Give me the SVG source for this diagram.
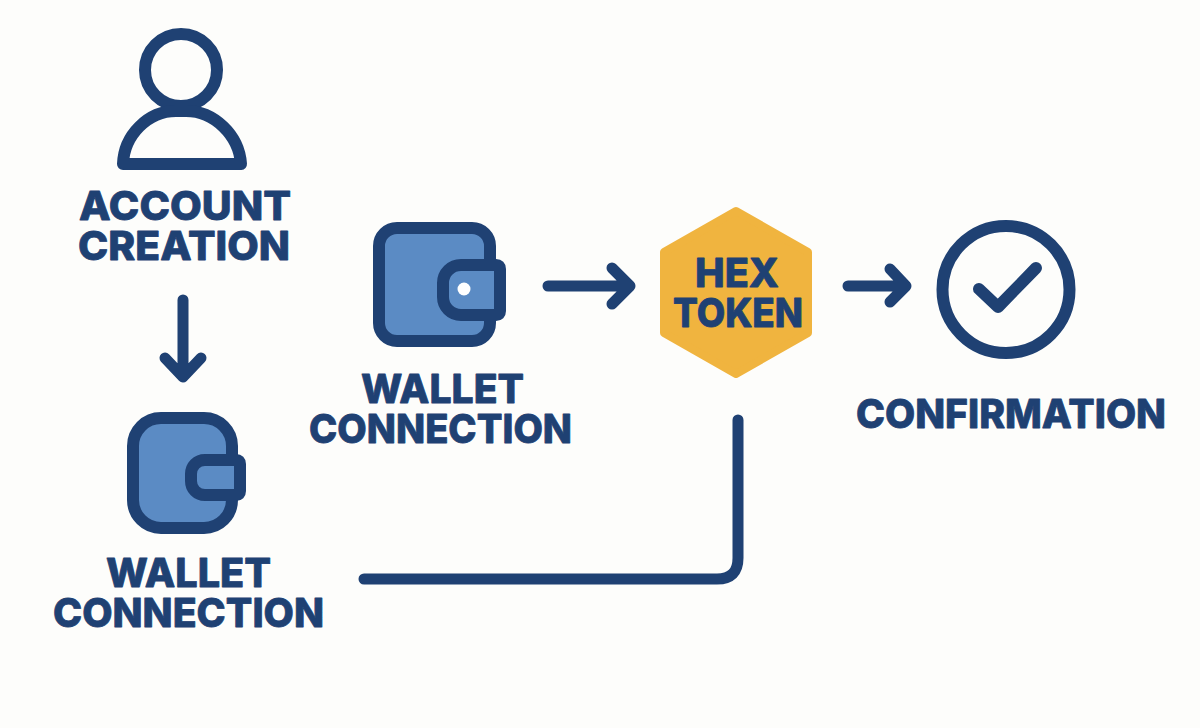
<svg xmlns="http://www.w3.org/2000/svg" width="1200" height="728" viewBox="0 0 1200 728">
<style>
.line{fill:none;stroke:#1f4173;stroke-linecap:round;stroke-linejoin:round}
.w{fill:#5b8bc4;stroke:#1f4173;stroke-width:12;stroke-linejoin:round}
text{font-family:"Inter","Liberation Sans",sans-serif;font-weight:800;font-size:40px;fill:#1f4173;stroke:#1f4173;stroke-width:.8;stroke-linejoin:round}
</style>
<rect width="1200" height="728" fill="#fdfdfb"/>
<g id="account-creation">
<circle class="line" cx="181" cy="70" r="36" stroke-width="12"/>
<path class="line" stroke-width="12" d="M123 164C124 135 148 111 176 111H186C214 111 239 135 241 164Z"/>
<text><tspan x="79" y="220" textLength="212" lengthAdjust="spacingAndGlyphs">ACCOUNT</tspan><tspan x="78" y="260" textLength="212" lengthAdjust="spacingAndGlyphs">CREATION</tspan></text>
</g>
<g id="wallet-connection-left">
<rect class="w" x="133" y="418" width="99" height="110" rx="28"/>
<path class="w" d="M205 460H236Q240 460 240 464V491Q240 495 236 495H205C197 495 191 489 191 481V474C191 466 197 460 205 460Z"/>
<text><tspan x="106" y="587" textLength="165" lengthAdjust="spacingAndGlyphs">WALLET</tspan><tspan x="53" y="627" textLength="271" lengthAdjust="spacingAndGlyphs">CONNECTION</tspan></text>
</g>
<g id="wallet-connection-center">
<rect class="w" x="379" y="228" width="111" height="113" rx="18"/>
<path class="w" d="M461 265H496Q500 265 500 269V311Q500 315 496 315H461C451 315 443 307 443 297V283C443 273 451 265 461 265Z"/>
<circle cx="464" cy="289" r="6.5" fill="#fff"/>
<text><tspan x="361" y="403" textLength="163" lengthAdjust="spacingAndGlyphs">WALLET</tspan><tspan x="309" y="443" textLength="263" lengthAdjust="spacingAndGlyphs">CONNECTION</tspan></text>
</g>
<g id="hex-token">
<polygon points="736,211 808,252 808,333 736,374 664,333 664,252" fill="#f0b43f" stroke="#f0b43f" stroke-width="8" stroke-linejoin="round"/>
<text><tspan x="695" y="287" textLength="84" lengthAdjust="spacingAndGlyphs">HEX</tspan><tspan x="673" y="327" textLength="130" lengthAdjust="spacingAndGlyphs">TOKEN</tspan></text>
</g>
<g id="confirmation">
<circle class="line" cx="1006" cy="289.5" r="63.5" stroke-width="12"/>
<path class="line" stroke-width="12" d="M979 289L998 307L1036 268"/>
<text x="856" y="428" textLength="310" lengthAdjust="spacingAndGlyphs">CONFIRMATION</text>
</g>
<g id="connectors">
<path class="line" stroke-width="11" d="M183 300V376M165 358L183 377L201 358"/>
<path class="line" stroke-width="11" d="M548 286H629M612 268L630 286L612 304"/>
<path class="line" stroke-width="11" d="M848 286H905M890 269L906 286L890 302"/>
<path class="line" stroke-width="11" d="M364 579H717Q738 579 738 558V420"/>
</g>
</svg>
